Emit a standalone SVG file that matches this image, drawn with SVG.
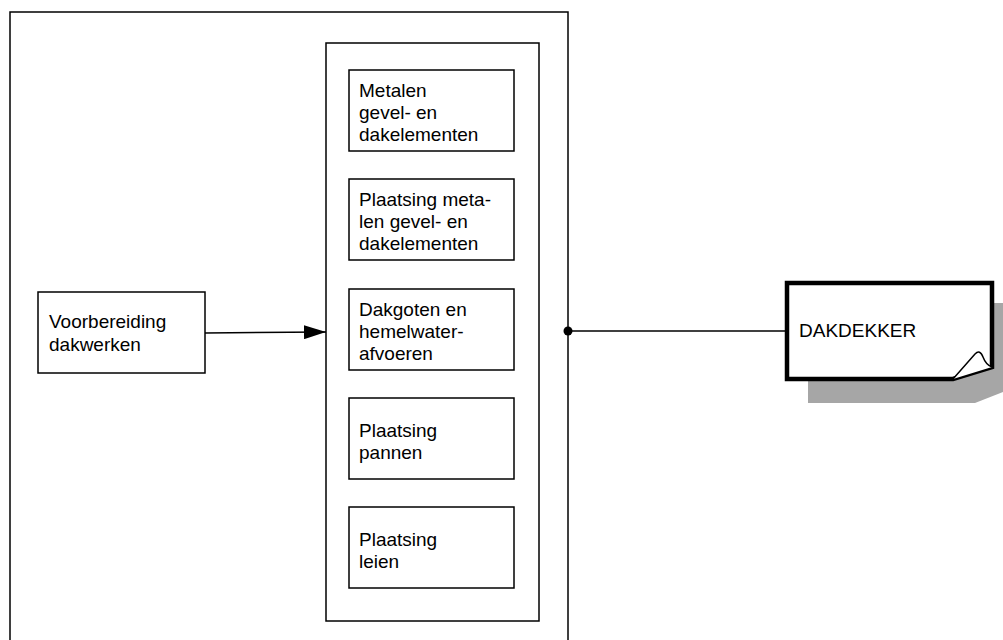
<svg xmlns="http://www.w3.org/2000/svg" width="1003" height="640" viewBox="0 0 1003 640">
<style>
.box{fill:#fff;stroke:#000;stroke-width:1.5}
.t{font-family:"Liberation Sans",Arial,sans-serif;font-size:19px;fill:#000}
.c{stroke:#000;stroke-width:1.5;fill:none}
</style>
<defs>
<marker id="arr" markerWidth="22" markerHeight="14" refX="22" refY="7" orient="auto" markerUnits="userSpaceOnUse">
<path d="M0,0 L22,7 L0,14 Z" fill="#000"/>
</marker>
</defs>
<rect width="1003" height="640" fill="#fff"/>
<g id="outer"><rect class="box" x="10" y="12" width="558" height="640"/></g>
<g id="container"><rect class="box" x="326" y="43" width="213" height="578"/></g>
<g id="n1"><rect class="box" x="349" y="70" width="165" height="81"/>
<text class="t" x="359" y="97">Metalen</text><text class="t" x="359" y="119">gevel- en</text><text class="t" x="359" y="141">dakelementen</text></g>
<g id="n2"><rect class="box" x="349" y="179" width="165" height="81"/>
<text class="t" x="359" y="206">Plaatsing meta-</text><text class="t" x="359" y="228">len gevel- en</text><text class="t" x="359" y="250">dakelementen</text></g>
<g id="n3"><rect class="box" x="349" y="289" width="165" height="81"/>
<text class="t" x="359" y="316">Dakgoten en</text><text class="t" x="359" y="338">hemelwater-</text><text class="t" x="359" y="360">afvoeren</text></g>
<g id="n4"><rect class="box" x="349" y="398" width="165" height="81"/>
<text class="t" x="359" y="437">Plaatsing</text><text class="t" x="359" y="459">pannen</text></g>
<g id="n5"><rect class="box" x="349" y="507" width="165" height="81"/>
<text class="t" x="359" y="546">Plaatsing</text><text class="t" x="359" y="568">leien</text></g>
<g id="n0"><rect class="box" x="38" y="292" width="167" height="81"/>
<text class="t" x="49" y="328">Voorbereiding</text><text class="t" x="49" y="351">dakwerken</text></g>
<g id="dakdekker">
<path d="M808,303 H1003 V392 L975,403 H808 Z" fill="#a6a6a6"/>
<path d="M787,283 H992 V367 L953,379 H787 Z" fill="#fff" stroke="#000" stroke-width="4.5" stroke-linejoin="miter"/>
<path d="M953,379 L975,354 Q980,349 983,357 Q986,365 992,367" fill="#fff" stroke="#000" stroke-width="1.5"/>
<text class="t" x="799" y="337">DAKDEKKER</text>
</g>
<g id="connectors">
<line class="c" x1="205" y1="333" x2="326" y2="332" marker-end="url(#arr)"/>
<line class="c" x1="568" y1="331" x2="787" y2="331"/>
<circle cx="568" cy="331" r="4.5" fill="#000"/>
</g>
</svg>
